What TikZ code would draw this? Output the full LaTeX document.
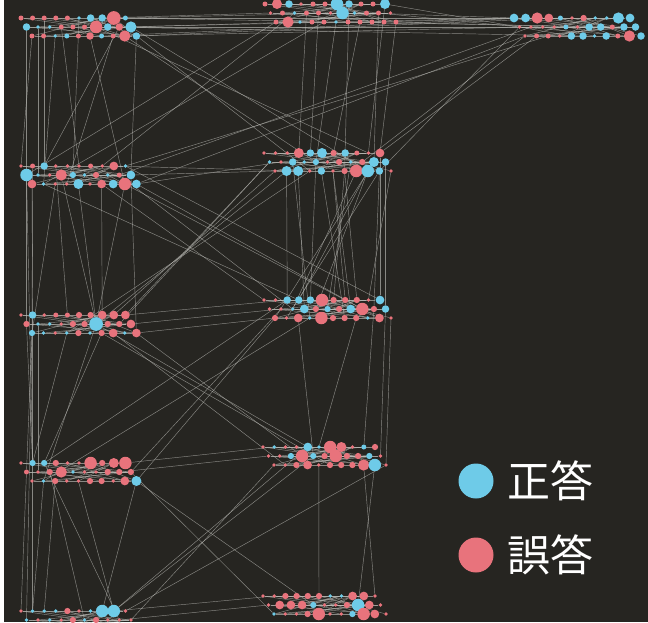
\documentclass[tikz,border=0pt]{standalone}
\usepackage{fontspec}
\usepackage{xcolor}
\usepackage{tikz}
\newfontfamily\cjk{Noto Sans CJK JP}

\definecolor{bgdark}{RGB}{38,37,33}
\definecolor{pk}{RGB}{232,115,124}
\definecolor{bl}{RGB}{110,203,232}
\definecolor{linkgray}{RGB}{190,190,185}

\pgfdeclarelayer{bg}
\pgfdeclarelayer{edges}
\pgfsetlayers{bg,edges,main}

\tikzset{
  dot/.style args={#1/#2}{circle, inner sep=0pt, minimum size=1.25*#2pt, fill=#1},
  link/.style={draw=linkgray, line width=0.45pt, opacity=0.65},
  legdot/.style={circle, inner sep=0pt, minimum size=35pt},
  legtext/.style={anchor=west, text=white, font=\cjk\fontsize{43}{43}\selectfont}
}

% one row of answer dots: name prefix, start x, y, spacing, list of colour/size
\newcommand\dotrow[5]{%
  \foreach \col/\sz [count=\k] in {#5}
    \node[dot=\col/\sz] (#1-\k) at ({#2+#4*(\k-1)},#3) {};}

\begin{document}
\begin{tikzpicture}[x=1pt, y=-1pt]
    \useasboundingbox (0,0) rectangle (648,622);
    \begin{pgfonlayer}{bg}
    \fill[white] (0,0) rectangle (648,622);
    \fill[bgdark] (4,0) rectangle (648,622);
    \end{pgfonlayer}

    % Cluster A (top left)
    \dotrow{A1}{21}{18}{11.6}{pk/4,pk/4,pk/4,pk/4,pk/4,bl/3,bl/6,bl/6,pk/11,bl/4}
    \dotrow{A2}{26.5}{27}{11.6}{bl/6,bl/3,bl/3,pk/4,pk/4,pk/4,pk/10,bl/6,pk/6,bl/9}
    \dotrow{A3}{32}{36}{11.6}{pk/4,pk/4,bl/3,bl/4,pk/4,pk/6,bl/4,pk/4,pk/9,bl/6}

    % Cluster B (top middle)
    \dotrow{B1}{265}{4}{12}{pk/4,pk/8,bl/6,pk/3,pk/4,pk/4,bl/10,bl/6,pk/4,pk/4,bl/8}
    \dotrow{B2}{270.5}{13}{12}{pk/3,pk/4,bl/3,pk/4,pk/4,pk/3,bl/10,bl/3,pk/4,pk/4,pk/3}
    \dotrow{B3}{276}{22}{12}{pk/4,pk/9,bl/3,pk/4,pk/4,bl/3,pk/4,pk/4,pk/4,pk/4,pk/4}

    % Cluster C (top right)
    \dotrow{C1}{514}{18}{11.6}{bl/7,bl/7,pk/9,pk/7,bl/4,pk/3,pk/5,bl/3,bl/3,bl/9,bl/7}
    \dotrow{C2}{519.5}{27}{11.6}{pk/3,pk/3,pk/3,pk/3,bl/4,pk/3,bl/6,bl/6,pk/4,bl/6,bl/6}
    \dotrow{C3}{525}{36}{11.6}{pk/3,pk/4,pk/4,pk/3,bl/6,bl/6,bl/3,bl/6,pk/4,pk/9,bl/6}

    % Cluster D
    \dotrow{D1}{21}{166}{11.6}{pk/3,pk/4,bl/6,pk/3,pk/3,pk/3,pk/4,pk/3,pk/7,bl/3}
    \dotrow{D2}{26.5}{175}{11.6}{bl/10,bl/3,pk/3,pk/9,bl/5,bl/3,pk/5,bl/3,pk/4,bl/7}
    \dotrow{D3}{32}{184}{11.6}{pk/7,bl/3,pk/3,pk/3,bl/8,pk/3,pk/7,bl/7,pk/10,bl/7}

    % Cluster E
    \dotrow{E1}{264}{153}{11.6}{pk/3,pk/3,pk/3,pk/8,bl/6,bl/8,pk/5,bl/6,pk/4,pk/3,pk/7}
    \dotrow{E2}{269.5}{162}{11.6}{bl/3,pk/3,bl/6,bl/3,bl/5,pk/3,pk/5,bl/3,pk/5,bl/8,bl/6}
    \dotrow{E3}{275}{171}{11.6}{pk/3,bl/8,bl/8,pk/3,bl/6,pk/3,pk/5,pk/10,bl/10,bl/6,pk/3}

    % Cluster F
    \dotrow{F1}{21}{315}{11.6}{pk/3,bl/6,pk/3,pk/4,pk/4,pk/5,pk/5,pk/7,pk/7,pk/7}
    \dotrow{F2}{26.5}{324}{11.6}{pk/5,bl/3,bl/3,pk/3,pk/5,pk/5,bl/11,pk/5,pk/5,pk/7}
    \dotrow{F3}{32}{333}{11.6}{bl/5,bl/3,pk/3,bl/3,pk/5,bl/3,pk/5,pk/7,bl/3,pk/7}

    % Cluster G
    \dotrow{G1}{264}{300}{11.6}{pk/3,pk/3,bl/6,bl/6,bl/6,pk/10,pk/5,pk/5,pk/5,pk/3,bl/7}
    \dotrow{G2}{269.5}{309}{11.6}{pk/3,pk/3,bl/3,bl/7,pk/5,bl/5,pk/5,bl/7,pk/10,pk/5,bl/6}
    \dotrow{G3}{275}{318}{11.6}{pk/5,pk/3,pk/7,bl/3,pk/10,pk/5,pk/5,pk/5,bl/3,pk/7,pk/3}

    % Cluster H
    \dotrow{H1}{21}{463}{11.6}{pk/3,bl/5,bl/5,pk/5,pk/3,pk/3,pk/10,pk/5,pk/8,pk/10}
    \dotrow{H2}{26.5}{472}{11.6}{pk/4,pk/3,pk/5,pk/9,bl/3,pk/3,pk/3,pk/5,pk/5,pk/5}
    \dotrow{H3}{32}{481}{11.6}{pk/3,bl/3,pk/5,pk/3,pk/3,pk/5,pk/5,pk/3,pk/7,bl/8}

    % Cluster I
    \dotrow{I1}{263}{447}{11.2}{pk/3,bl/3,pk/3,pk/3,bl/7,bl/3,pk/10,pk/8,pk/3,bl/4,pk/5}
    \dotrow{I2}{268.5}{456}{11.2}{pk/3,pk/3,bl/5,pk/10,bl/5,pk/5,pk/10,pk/5,pk/5,bl/5,pk/3}
    \dotrow{I3}{274}{465}{11.2}{pk/3,pk/3,pk/5,pk/7,pk/3,pk/5,pk/5,pk/5,pk/9,bl/10,pk/3}

    % Cluster J (bottom left)
    \dotrow{J1}{21}{611}{11.6}{pk/3,bl/3,bl/3,bl/3,pk/5,pk/3,bl/3,bl/10,bl/10,pk/3}
    \dotrow{J2}{26.5}{620}{11.6}{bl/3,pk/3,bl/3,pk/3,pk/5,bl/3,pk/5,pk/3,pk/3,pk/3}
    \dotrow{J3}{32}{629}{11.6}{pk/3,pk/3,bl/3,pk/3,pk/5,pk/3,pk/3,pk/3,pk/3,pk/3}

    % Cluster K (bottom middle)
    \dotrow{K1}{263}{596}{11.2}{pk/3,pk/3,pk/5,pk/5,pk/5,pk/5,bl/3,bl/3,pk/7,pk/7,pk/3}
    \dotrow{K2}{268.5}{605}{11.2}{pk/3,pk/7,pk/7,pk/7,bl/5,pk/3,pk/3,pk/5,bl/10,pk/7,pk/3}
    \dotrow{K3}{274}{614}{11.2}{bl/3,pk/3,pk/3,pk/5,pk/10,pk/3,pk/3,bl/5,pk/10,pk/7,pk/3}

    \begin{pgfonlayer}{edges}
    % links inside each cluster
    \foreach \c in {A,...,K} {
      \foreach \u/\v in {1-1/1-10, 2-1/2-10, 3-1/3-10, 1-3/2-9, 2-2/1-10, 3-2/2-10,
                         1-5/3-9, 2-4/1-8, 3-4/1-9, 2-1/3-10, 1-2/2-7, 3-3/2-9,
                         1-7/3-10, 2-5/3-9, 1-4/2-10, 3-5/1-9, 1-1/2-6, 2-3/3-7,
                         3-1/1-8, 2-6/2-10}
        \draw[link] (\c\u) -- (\c\v);
    }
    \foreach \c in {B,C,E,G,I,K} {
      \foreach \u/\v in {1-2/1-11, 2-3/2-11, 3-1/2-11, 1-6/3-11}
        \draw[link] (\c\u) -- (\c\v);
    }
    % links between clusters
    \foreach \u/\v in {A1-9/C1-1, A2-10/C2-3, A3-10/C1-5, A2-8/C3-6, A1-10/C2-9,
                       A3-7/C1-2, B2-10/C2-1, B3-9/C1-3, B1-11/C3-5, B3-11/C2-6,
                       A2-9/C1-1, A3-9/C2-2, C1-1/B2-9,
                       A1-8/B2-1, A2-10/B3-3, A1-10/B2-7,
                       A2-10/E3-9, A3-9/E2-5, A2-7/E1-10, A1-9/E3-4,
                       A2-1/D2-1, A3-1/D1-1, A3-3/D3-2, A2-4/D1-6, A3-6/D3-9,
                       A3-10/D2-10, A1-6/D2-5, A3-8/D3-4, A2-9/D1-3,
                       A2-2/D2-2, A1-3/D1-3,
                       B3-1/D2-1, B2-3/D1-8, B3-5/D3-2,
                       B2-4/E1-4, B2-10/E2-10, B3-11/E1-11, B1-8/E3-7, B3-6/E2-5,
                       B2-5/E1-5, B3-8/E1-7, B1-11/E1-10,
                       C3-1/D3-10, C2-2/D2-9, C3-3/D1-10,
                       C3-2/E1-11, C3-1/E2-9, C2-1/E3-10,
                       D2-10/E3-1, D3-10/E2-2, D1-9/E3-3,
                       D2-1/F2-1, D3-1/F1-2, D3-3/F3-1, D2-4/F2-7, D3-5/F2-7,
                       D1-2/F3-1, D3-9/F2-7, D2-10/F3-10, D1-4/F1-5, D3-7/F1-8,
                       D3-10/G2-9, D3-2/G1-4, D2-8/G3-10, D1-10/G1-11,
                       D2-9/G2-3, D3-7/G1-1,
                       E3-2/F2-7, E2-1/F1-10, E3-4/F3-4, E3-1/F1-9, E2-1/F2-9,
                       E3-2/G1-3, E3-3/G2-4, E2-5/G1-5, E3-5/G3-7, E3-9/G1-4,
                       E3-8/G2-3, E3-10/G3-2, E1-11/G1-11, E2-11/G2-11, E3-6/G2-8,
                       E3-9/G2-5, E2-10/G3-1, E3-7/G1-9, E3-10/G2-10, E2-3/G3-4,
                       E3-7/G1-7, E3-6/G1-8, E3-11/G1-10, E2-8/G2-6,
                       F1-10/G1-3, F2-10/G2-2, F3-10/G3-1,
                       F3-1/H2-1, F2-1/H1-2, F3-7/H1-3, F2-7/H3-2, F3-4/H1-2,
                       F1-2/H1-2, F2-2/H2-2,
                       F3-10/I2-4, F2-7/I1-5, F3-7/I3-6, F3-8/I3-2,
                       G3-1/H3-10, G2-2/H2-10, G3-4/H3-2, G1-3/H1-3,
                       G3-3/I2-5, G3-11/I3-11, G2-10/I1-10, G3-8/I1-6, G2-11/I2-11,
                       H2-9/I2-1, H1-10/I1-2,
                       H3-2/J1-2, H2-1/J1-1, H2-3/J2-6, H3-5/J1-9, H3-10/J1-8, H1-3/J2-9,
                       H3-3/J1-3, H1-2/J1-2,
                       H3-10/K2-5, H2-10/K3-1,
                       I3-11/J1-10, I2-5/J1-9, I3-1/J2-10, I1-5/J1-9,
                       I3-5/K1-6, I3-10/K2-9, I3-9/K1-11,
                       K1-2/J1-9, K2-1/J2-9,
                       F3-1/J2-1, D2-1/H1-2}
      \draw[link] (\u) -- (\v);
    \end{pgfonlayer}

    % Legend
    \node[legdot, fill=bl] (okdot) at (476,481) {};
    \node[legtext] (oktext) at (504,481) {正答};
    \node[legdot, fill=pk] (ngdot) at (476,555) {};
    \node[legtext] (ngtext) at (504,555) {誤答};
\end{tikzpicture}
\end{document}
